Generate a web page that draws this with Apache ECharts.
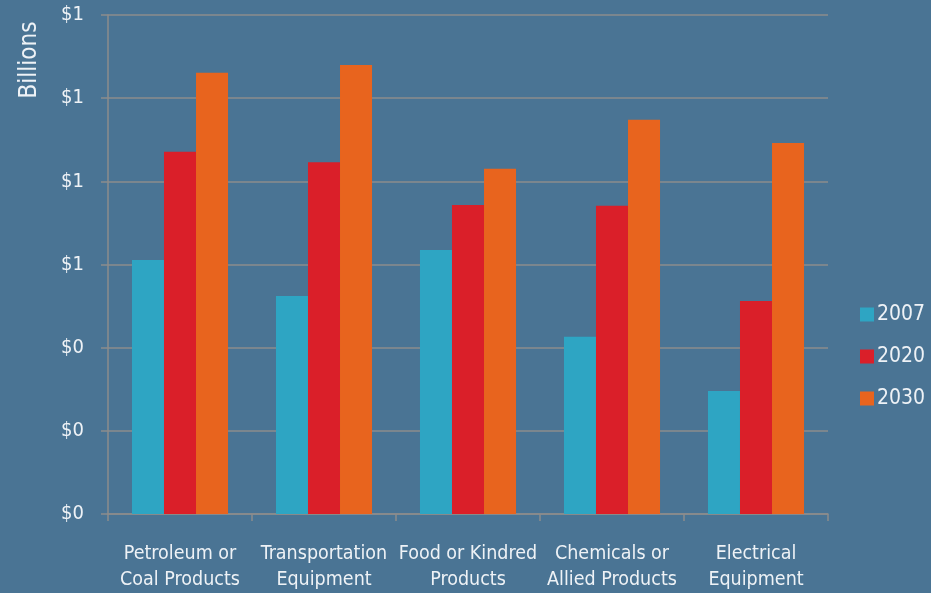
<!DOCTYPE html>
<html><head><meta charset="utf-8">
<script src="https://cdn.jsdelivr.net/npm/echarts@6/dist/echarts.min.js"></script>
<style>html,body{margin:0;padding:0;background:#4a7494;}#c{width:931px;height:593px;}</style>
</head><body><div id="c"></div>
<script>
const categories = ['Petroleum or\nCoal Products','Transportation\nEquipment','Food or Kindred\nProducts','Chemicals or\nAllied Products','Electrical\nEquipment'];
const s2007 = [0.611, 0.524, 0.635, 0.426, 0.296];
const s2020 = [0.871, 0.846, 0.743, 0.741, 0.512];
const s2030 = [1.061, 1.080, 0.830, 0.948, 0.892];
const yTicks = {min: 0, max: 1.2, interval: 0.2};
const FONT = '"Liberation Sans Narrow","DejaVu Sans Condensed","Arial Narrow",sans-serif';
const TXT = '#eef2f6';
const chart = echarts.init(document.getElementById('c'));
chart.setOption({
  backgroundColor: '#4a7494',
  animation: false,
  grid: {left: 108, right: 103, top: 15, bottom: 79, outerBoundsMode: 'none', containLabel: false},
  graphic: [{
    type: 'text', x: 30, y: 60, rotation: Math.PI / 2,
    style: {text: 'Billions', fill: TXT, font: '24px ' + FONT, align: 'center', verticalAlign: 'middle'}
  }],
  legend: {
    orient: 'vertical', left: 855, top: 299, itemWidth: 14, itemHeight: 14, itemGap: 21,
    icon: 'rect',
    textStyle: {color: TXT, fontSize: 21, fontFamily: FONT, padding: [0,0,0,-2]},
    data: ['2007','2020','2030']
  },
  xAxis: {
    type: 'category', data: categories,
    axisLine: {lineStyle: {color: '#8c8c8c', width: 1.5}},
    axisTick: {show: true, length: 7, lineStyle: {color: '#8c8c8c', width: 1.5}},
    axisLabel: {color: TXT, fontSize: 19.5, fontFamily: FONT, margin: 27, lineHeight: 26, interval: 0}
  },
  yAxis: {
    type: 'value', min: yTicks.min, max: yTicks.max, interval: yTicks.interval,
    axisLine: {show: true, lineStyle: {color: '#8c8c8c', width: 1.5}},
    axisTick: {show: true, length: 7, lineStyle: {color: '#8c8c8c', width: 1.5}},
    splitLine: {lineStyle: {color: '#8c8c8c', width: 1.5}},
    axisLabel: {color: TXT, fontSize: 20, fontFamily: FONT, margin: 24,
      formatter: v => '$' + Math.round(v)}
  },
  series: [
    {name: '2007', type: 'bar', data: s2007, itemStyle: {color: '#2ea5c3'}, barGap: '0%', barCategoryGap: '33.3%'},
    {name: '2020', type: 'bar', data: s2020, itemStyle: {color: '#da1f29'}},
    {name: '2030', type: 'bar', data: s2030, itemStyle: {color: '#e8641e'}}
  ]
});
</script></body></html>
